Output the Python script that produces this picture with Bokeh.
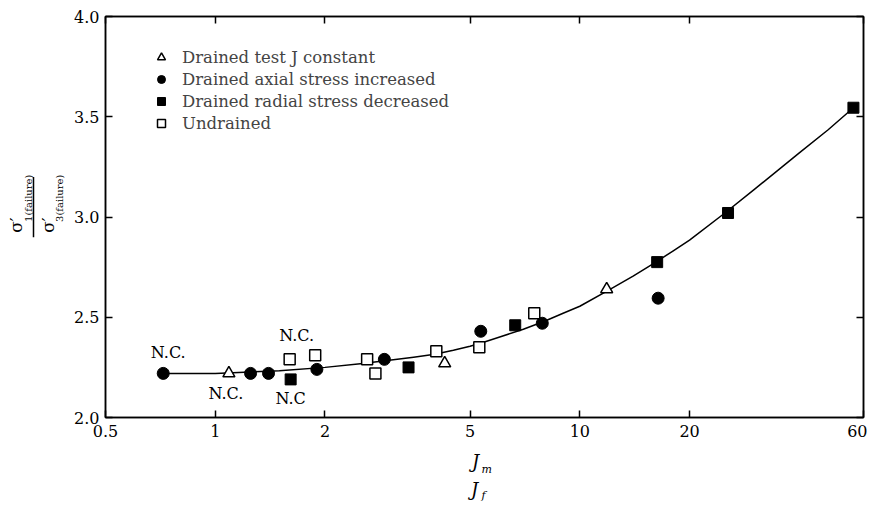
from math import pi
from bokeh.plotting import figure
from bokeh.layouts import row, column
from bokeh.models import (FixedTicker, CustomJSTickFormatter, LogAxis, LinearAxis,
                          Legend, LegendItem, Label, Arrow, Range1d)
from bokeh.core.properties import value
from bokeh.embed import file_html
from bokeh.resources import INLINE

# ---------------- data ----------------
x_ticks = [0.5, 1, 2, 5, 10, 20, 60]
y_ticks = [2.0, 2.5, 3.0, 3.5, 4.0]

# fitted curve
curve_j = [0.72, 1.0, 1.5, 2.0, 2.5, 3.0, 3.5, 4.0, 4.5, 5.0, 5.5, 6.0, 7.0, 8.0, 9.0,
           10, 12, 14, 16, 18, 20, 25, 30, 40, 48, 56.3]
curve_r = [2.22, 2.22, 2.233, 2.25, 2.268, 2.285, 2.30, 2.315, 2.335, 2.355, 2.378, 2.40,
           2.44, 2.48, 2.52, 2.555, 2.635, 2.705, 2.77, 2.83, 2.885, 3.02, 3.135, 3.32,
           3.435, 3.545]

# Drained test J constant (open triangles)
tri_j = [1.09, 4.26, 11.85]
tri_r = [2.22, 2.27, 2.64]
# Drained axial stress increased (filled circles)
circ_j = [0.72, 1.25, 1.40, 1.90, 2.91, 5.35, 7.89, 16.4]
circ_r = [2.22, 2.22, 2.22, 2.24, 2.29, 2.43, 2.47, 2.595]
# Drained radial stress decreased (filled squares)
sq_j = [1.61, 3.39, 6.65, 16.3, 25.5, 56.3]
sq_r = [2.19, 2.25, 2.46, 2.775, 3.02, 3.545]
# Undrained (open squares)
open_j = [1.60, 1.88, 2.61, 2.75, 4.04, 5.30, 7.50]
open_r = [2.29, 2.31, 2.29, 2.22, 2.33, 2.35, 2.52]

# N.C. annotations attached to points
nc_j = [0.72, 1.09, 1.60, 1.61]
nc_r = [2.22, 2.22, 2.29, 2.19]
nc_text = ["N.C.", "N.C.", "N.C.", "N.C"]

legend_labels = ["Drained test J constant", "Drained axial stress increased",
                 "Drained radial stress decreased", "Undrained"]

# ---------------- styles / layout ----------------
FONT = "DejaVu Serif"
nc_dx = [5, -3, 7, 0]
nc_dy = [-21, 20, -24, 19]

YLAB_W = 70
TOP_H = 445
TOTAL_W = 867
XLAB_H = 57

p = figure(width=TOTAL_W - YLAB_W, height=TOP_H, x_axis_type="log",
           x_range=(0.5, 60), y_range=(2.0, 4.0),
           output_backend="svg", toolbar_location=None,
           min_border_left=35, min_border_right=4, min_border_top=16, min_border_bottom=28)
p.background_fill_color = "white"
p.border_fill_color = "white"
p.outline_line_color = "black"
p.outline_line_width = 1.5
p.xgrid.visible = False
p.ygrid.visible = False

empty_fmt = CustomJSTickFormatter(code="return '';")

def style_axis(ax, show_labels=True):
    ax.major_tick_in = 7
    ax.major_tick_out = 0
    ax.minor_tick_in = 0
    ax.minor_tick_out = 0
    ax.axis_line_width = 1.5
    ax.major_tick_line_width = 1.5
    ax.axis_line_color = "black"
    ax.major_label_text_font = FONT
    ax.major_label_text_font_size = "16px"
    ax.major_label_text_color = "black"
    if not show_labels:
        ax.formatter = empty_fmt
        ax.major_label_standoff = 0

p.xaxis.ticker = FixedTicker(ticks=x_ticks, minor_ticks=[])
p.xaxis.formatter = CustomJSTickFormatter(code="return tick.toString();")
p.yaxis.ticker = FixedTicker(ticks=y_ticks, minor_ticks=[])
p.yaxis.formatter = CustomJSTickFormatter(code="return tick.toFixed(1);")
for ax in p.xaxis:
    style_axis(ax)
    ax.major_label_standoff = 7
for ax in p.yaxis:
    style_axis(ax)
    ax.major_label_standoff = 6

top_ax = LogAxis(ticker=FixedTicker(ticks=x_ticks, minor_ticks=[]))
style_axis(top_ax, False)
p.add_layout(top_ax, "above")
right_ax = LinearAxis(ticker=FixedTicker(ticks=y_ticks, minor_ticks=[]))
style_axis(right_ax, False)
p.add_layout(right_ax, "right")

# curve
p.line(curve_j, curve_r, line_color="black", line_width=1.5, line_join="round")

r_tri = p.scatter(tri_j, tri_r, marker="triangle", size=12, fill_color="white",
                  line_color="black", line_width=1.5)
r_circ = p.scatter(circ_j, circ_r, marker="circle", size=12, fill_color="black",
                   line_color="black")
r_sq = p.scatter(sq_j, sq_r, marker="square", size=11, fill_color="black",
                 line_color="black")
r_open = p.scatter(open_j, open_r, marker="square", size=11, fill_color="white",
                   line_color="black", line_width=1.5)

p.text(nc_j, nc_r, text=nc_text, x_offset=nc_dx, y_offset=nc_dy,
       text_align="center", text_baseline="middle",
       text_font=value(FONT), text_font_size="16px", text_color="black")

legend = Legend(items=[LegendItem(label=legend_labels[0], renderers=[r_tri]),
                       LegendItem(label=legend_labels[1], renderers=[r_circ]),
                       LegendItem(label=legend_labels[2], renderers=[r_sq]),
                       LegendItem(label=legend_labels[3], renderers=[r_open])],
                location=(46, 283), padding=0, spacing=0, margin=0,
                label_height=22, glyph_height=22, glyph_width=20, label_standoff=11,
                label_text_font=FONT, label_text_font_size="16.5px",
                border_line_color=None, background_fill_alpha=0)
p.add_layout(legend)

# ---------- label panels (pixel-unit figures) ----------
def label_fig(w, h):
    f = figure(width=w, height=h, x_range=Range1d(0, w), y_range=Range1d(0, h),
               output_backend="svg", toolbar_location=None,
               x_axis_location=None, y_axis_location=None,
               min_border_left=0, min_border_right=0, min_border_top=0, min_border_bottom=0)
    f.outline_line_color = None
    f.xgrid.visible = False
    f.ygrid.visible = False
    f.background_fill_color = "white"
    f.border_fill_color = "white"
    return f

def lab(f, text, x, y, size, angle=0.0, style="normal", align="left"):
    f.add_layout(Label(x=x, y=y, text=text, angle=angle, text_font=FONT,
                       text_font_size=size, text_font_style=style, text_align=align,
                       text_baseline="middle", text_color="black"))

# y-axis label: sigma'_1(failure) / sigma'_3(failure), rotated
ylab = label_fig(YLAB_W, TOP_H)
lab(ylab, "σ′", 15, TOP_H - 240, "17px", angle=pi / 2)
lab(ylab, "1(failure)", 28, TOP_H - 228, "10px", angle=pi / 2)
lab(ylab, "σ′", 47, TOP_H - 240, "17px", angle=pi / 2)
lab(ylab, "3(failure)", 59, TOP_H - 228, "10px", angle=pi / 2)
ylab.add_layout(Arrow(end=None, x_start=33, y_start=TOP_H - 245, x_end=33, y_end=TOP_H - 178,
                      line_color="black", line_width=1.5))

# x-axis label: J_m over J_f
xlab = label_fig(TOTAL_W, XLAB_H)
lab(xlab, "J", 475, XLAB_H - 16, "18px", style="italic", align="center")
lab(xlab, "m", 481, XLAB_H - 24, "11px", style="italic")
lab(xlab, "J", 474, XLAB_H - 44, "18px", style="italic", align="center")
lab(xlab, "f", 481, XLAB_H - 50, "11px", style="italic")

layout = column(row(ylab, p, spacing=0), xlab, spacing=0)

open("out.html", "w").write(file_html(layout, INLINE))
